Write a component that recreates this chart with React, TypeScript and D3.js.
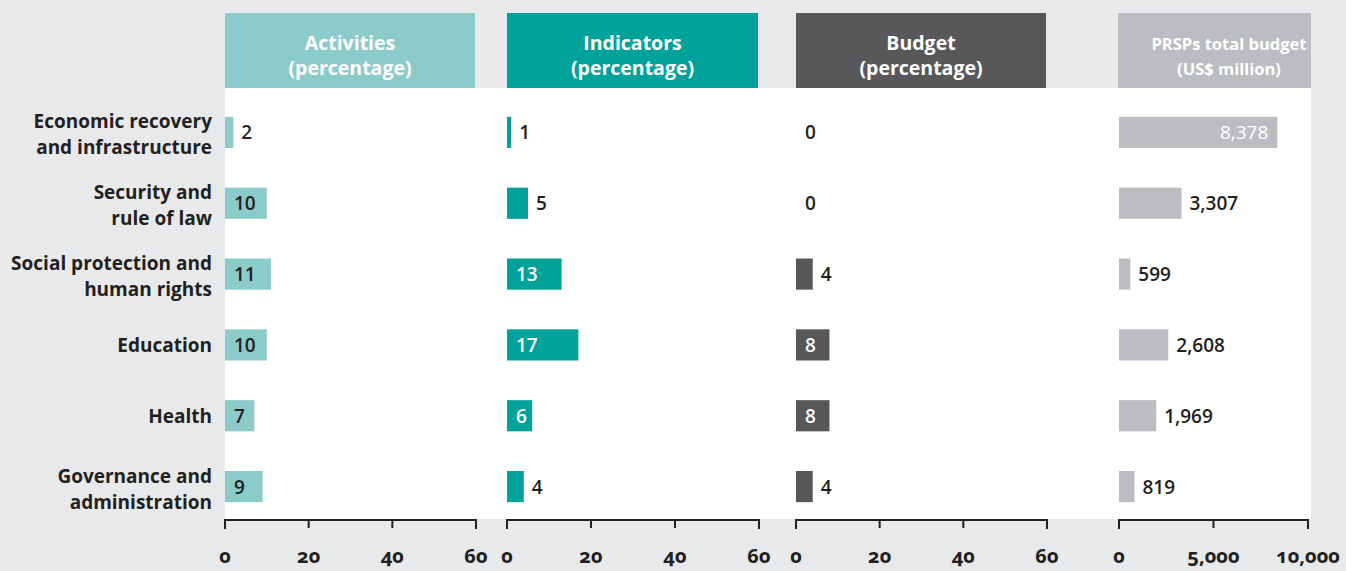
import React from 'react';
import * as d3 from 'd3';

// Row labels (\n marks the line break used in the chart)
const categories = [
  'Economic recovery\nand infrastructure',
  'Security and\nrule of law',
  'Social protection and\nhuman rights',
  'Education',
  'Health',
  'Governance and\nadministration',
];

const activities = [2, 10, 11, 10, 7, 9];
const indicators = [1, 5, 13, 17, 6, 4];
const budget = [0, 0, 4, 8, 8, 4];
const prspBudget = [8378, 3307, 599, 2608, 1969, 819];

const pctTicks = [0, 20, 40, 60];
const usdTicks = [0, 5000, 10000];

const WIDTH = 1346;
const HEIGHT = 571;
const BG = '#e8e9eb';
const INK = '#231f20';
const FONT = "'Open Sans', 'Noto Sans', sans-serif";

interface Panel {
  title: string[];
  values: number[];
  color: string;
  insideText: string;
  x0: number;
  x1: number;
  max: number;
  ticks: number[];
  headX0: number;
  headX1: number;
  titleX?: number;
  titleSize: number;
  bigInsideRight?: boolean;
}

const panels: Panel[] = [
  { title: ['Activities', '(percentage)'], values: activities, color: '#8bcbc9', insideText: INK,
    x0: 225, x1: 476, max: 60, ticks: pctTicks, headX0: 225, headX1: 475, titleSize: 19.5 },
  { title: ['Indicators', '(percentage)'], values: indicators, color: '#00a29a', insideText: '#ffffff',
    x0: 507, x1: 759, max: 60, ticks: pctTicks, headX0: 507, headX1: 758, titleSize: 19.5 },
  { title: ['Budget', '(percentage)'], values: budget, color: '#58585a', insideText: '#ffffff',
    x0: 796, x1: 1047, max: 60, ticks: pctTicks, headX0: 796, headX1: 1046, titleSize: 19.5 },
  { title: ['PRSPs total budget', '(US$ million)'], values: prspBudget, color: '#bcbdc0', insideText: '#ffffff',
    x0: 1119, x1: 1308, max: 10000, ticks: usdTicks, headX0: 1118, headX1: 1311, titleX: 1229,
    titleSize: 16.5, bigInsideRight: true },
];

const y = d3.scaleBand<string>()
  .domain(categories)
  .range([97, 522])
  .paddingInner(0.56)
  .paddingOuter(0.28);

const fmt = d3.format(',');

const App: React.FC = () => {
  const bw = y.bandwidth();
  return (
    <svg width={WIDTH} height={HEIGHT} style={{ display: 'block', position: 'absolute', left: 0, top: 0 }}
      fontFamily={FONT}>
      <rect x={0} y={0} width={WIDTH} height={HEIGHT} fill={BG} />
      {/* white plotting area */}
      <rect x={225} y={88} width={1311 - 225} height={519 - 88} fill="#ffffff" />

      {/* row labels */}
      {categories.map((c) => {
        const lines = c.split('\n');
        const cy = (y(c) ?? 0) + bw / 2;
        return (
          <text key={c} x={212} textAnchor="end" fontSize={19} fontWeight={700} fill={INK}>
            {lines.length === 1 ? (
              <tspan x={212} y={cy + 7}>{lines[0]}</tspan>
            ) : (
              lines.map((l, i) => (
                <tspan key={i} x={212} y={cy - 4 + i * 26}>{l}</tspan>
              ))
            )}
          </text>
        );
      })}

      {panels.map((p, pi) => {
        const x = d3.scaleLinear().domain([0, p.max]).range([p.x0, p.x1]);
        const cx = p.titleX ?? (p.headX0 + p.headX1) / 2;
        return (
          <g key={pi}>
            <rect x={p.headX0} y={13} width={p.headX1 - p.headX0} height={75} fill={p.color} />
            <text textAnchor="middle" fill="#ffffff" fontWeight={700} fontSize={p.titleSize}>
              <tspan x={cx} y={50}>{p.title[0]}</tspan>
              <tspan x={cx} y={75}>{p.title[1]}</tspan>
            </text>

            {p.values.map((v, i) => {
              const c = categories[i];
              const by = y(c) ?? 0;
              const cy = by + bw / 2;
              const w = x(v) - x(0);
              let tx = x(v) + 8;
              let anchor = 'start';
              let fill = INK;
              if (p.bigInsideRight) {
                if (w > 100) {
                  tx = x(v) - 9;
                  anchor = 'end';
                  fill = p.insideText;
                }
              } else if (w >= 24) {
                tx = x(0) + 9;
                fill = p.insideText;
              }
              return (
                <g key={c}>
                  {v > 0 && <rect x={x(0)} y={by} width={w} height={bw} fill={p.color} />}
                  <text x={v > 0 ? tx : x(0) + 9} y={cy + 7} textAnchor={anchor} fill={fill}
                    fontSize={19} fontWeight={p.bigInsideRight && anchor === 'end' ? 400 : 600}>
                    {fmt(v)}
                  </text>
                </g>
              );
            })}

            {/* axis */}
            <path d={`M${x(0)},529V520H${x(p.max)}V529`} fill="none" stroke={INK} strokeWidth={2} />
            {p.ticks.slice(1, -1).map((t) => (
              <line key={t} x1={x(t)} x2={x(t)} y1={520} y2={528} stroke={INK} strokeWidth={2} />
            ))}
            {p.ticks.map((t) => (
              <text key={t} x={x(t)} y={563} textAnchor="middle" fill={INK} fontSize={20} fontWeight={700}
                fontFamily="'Noto Sans', sans-serif" style={{ fontVariantNumeric: 'oldstyle-nums' }}>
                {fmt(t)}
              </text>
            ))}
          </g>
        );
      })}
    </svg>
  );
};

export default App;
